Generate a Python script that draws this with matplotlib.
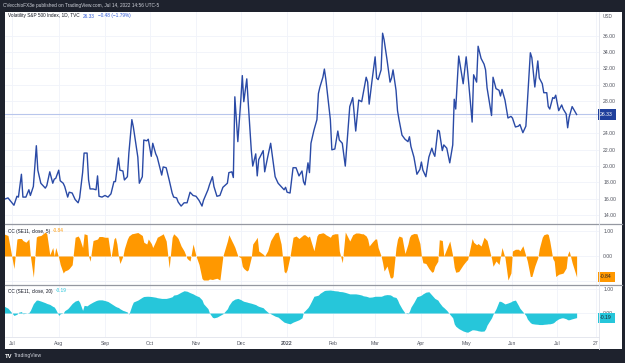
import matplotlib
matplotlib.use("Agg")
import matplotlib.pyplot as plt
import pandas as pd

# VIX daily closes (Jul 2021 - Jul 2022)
dates = [
    "2021-06-25", "2021-06-28", "2021-07-02", "2021-07-04", "2021-07-05", "2021-07-07", "2021-07-08", "2021-07-10", "2021-07-12", "2021-07-13",
    "2021-07-15", "2021-07-17", "2021-07-18", "2021-07-20", "2021-07-23", "2021-07-24", "2021-07-26", "2021-07-28", "2021-07-29", "2021-07-30",
    "2021-08-01", "2021-08-02", "2021-08-04", "2021-08-05", "2021-08-07", "2021-08-08", "2021-08-10", "2021-08-12", "2021-08-14", "2021-08-15",
    "2021-08-17", "2021-08-18", "2021-08-20", "2021-08-21", "2021-08-22", "2021-08-24", "2021-08-26", "2021-08-27", "2021-08-28", "2021-08-30",
    "2021-09-01", "2021-09-03", "2021-09-05", "2021-09-07", "2021-09-08", "2021-09-09", "2021-09-10", "2021-09-11", "2021-09-13", "2021-09-14",
    "2021-09-16", "2021-09-17", "2021-09-19", "2021-09-20", "2021-09-23", "2021-09-24", "2021-09-26", "2021-09-27", "2021-09-29", "2021-09-30",
    "2021-10-02", "2021-10-03", "2021-10-05", "2021-10-06", "2021-10-09", "2021-10-10", "2021-10-12", "2021-10-14", "2021-10-16", "2021-10-17",
    "2021-10-19", "2021-10-20", "2021-10-22", "2021-10-24", "2021-10-26", "2021-10-28", "2021-10-30",
    "2021-11-01", "2021-11-03", "2021-11-05", "2021-11-06", "2021-11-09", "2021-11-10", "2021-11-12", "2021-11-13", "2021-11-15", "2021-11-17",
    "2021-11-19", "2021-11-22", "2021-11-23", "2021-11-25", "2021-11-26", "2021-11-27", "2021-11-29",
    "2021-12-01", "2021-12-02", "2021-12-03", "2021-12-05", "2021-12-06", "2021-12-08", "2021-12-09", "2021-12-11", "2021-12-12", "2021-12-13",
    "2021-12-16", "2021-12-17", "2021-12-19", "2021-12-21", "2021-12-24", "2021-12-26", "2021-12-28", "2021-12-30", "2021-12-31",
    "2022-01-01", "2022-01-03", "2022-01-05", "2022-01-07", "2022-01-09", "2022-01-11", "2022-01-12", "2022-01-13", "2022-01-15", "2022-01-16",
    "2022-01-17", "2022-01-19", "2022-01-21", "2022-01-22", "2022-01-23", "2022-01-25", "2022-01-26", "2022-01-27", "2022-01-30", "2022-01-31",
    "2022-02-02", "2022-02-04", "2022-02-05", "2022-02-07", "2022-02-09", "2022-02-12", "2022-02-14", "2022-02-16", "2022-02-18", "2022-02-20",
    "2022-02-21", "2022-02-23", "2022-02-24", "2022-02-25", "2022-02-27",
    "2022-03-01", "2022-03-02", "2022-03-03", "2022-03-05", "2022-03-06", "2022-03-07", "2022-03-09", "2022-03-11", "2022-03-12", "2022-03-13",
    "2022-03-15", "2022-03-16", "2022-03-17", "2022-03-19", "2022-03-21", "2022-03-23", "2022-03-24", "2022-03-25", "2022-03-27", "2022-03-29", "2022-03-31",
    "2022-04-01", "2022-04-02", "2022-04-04", "2022-04-06", "2022-04-08", "2022-04-09", "2022-04-10", "2022-04-12", "2022-04-13", "2022-04-15",
    "2022-04-16", "2022-04-18", "2022-04-20", "2022-04-22", "2022-04-23", "2022-04-24", "2022-04-26", "2022-04-29",
    "2022-05-01", "2022-05-02", "2022-05-05", "2022-05-06", "2022-05-08", "2022-05-09", "2022-05-11", "2022-05-13", "2022-05-14", "2022-05-15",
    "2022-05-18", "2022-05-19", "2022-05-21", "2022-05-23", "2022-05-24", "2022-05-25", "2022-05-27", "2022-05-29", "2022-05-31",
    "2022-06-01", "2022-06-03", "2022-06-05", "2022-06-06", "2022-06-08", "2022-06-10", "2022-06-11", "2022-06-13", "2022-06-14", "2022-06-16",
    "2022-06-18", "2022-06-19", "2022-06-21", "2022-06-22", "2022-06-24", "2022-06-25", "2022-06-26", "2022-06-28", "2022-06-29", "2022-06-30",
    "2022-07-02", "2022-07-04", "2022-07-05", "2022-07-07", "2022-07-08", "2022-07-09", "2022-07-11", "2022-07-14",
]

vix = [
    15.9, 16.1, 15.2, 16.3, 16.2, 19.0, 16.2, 16.2, 17.1, 16.4, 17.5, 22.5, 19.5, 17.9, 17.3, 17.6, 19.3, 17.9, 18.4, 18.5,
    19.5, 18.2, 17.9, 17.5, 16.2, 16.8, 16.7, 15.9, 15.5, 16.1, 19.2, 21.6, 21.6, 18.3, 17.2, 17.2, 17.1, 18.8, 16.3, 16.2,
    16.4, 16.2, 16.6, 18.1, 18.1, 19.5, 21.0, 19.5, 19.4, 18.3, 18.7, 21.6, 25.7, 24.8, 21.1, 17.9, 18.7, 23.2, 23.1, 23.3,
    21.2, 22.8, 21.5, 21.1, 18.9, 19.9, 19.8, 18.3, 16.7, 16.2, 16.1, 15.6, 15.1, 15.5, 15.5, 16.8, 16.4,
    16.3, 15.8, 15.1, 15.8, 17.1, 17.7, 18.7, 17.5, 16.3, 16.4, 17.4, 17.9, 19.2, 19.3, 18.6, 28.5, 23.0,
    28.1, 31.1, 27.9, 30.7, 27.7, 22.0, 20.0, 21.5, 18.8, 20.8, 21.9, 19.3, 21.1, 22.8, 18.7, 17.9, 17.5, 17.1, 17.4,
    16.8, 16.7, 19.8, 19.8, 18.8, 19.4, 18.1, 17.7, 20.4, 19.2, 22.8, 24.4, 25.7, 28.9, 29.7, 30.9, 31.9, 30.6, 25.7, 22.0,
    22.1, 24.3, 23.2, 22.8, 20.0, 27.3, 28.4, 24.3, 28.1, 27.9, 28.9, 30.9, 30.3, 27.6, 30.6,
    33.4, 30.8, 30.6, 31.8, 36.3, 35.5, 33.0, 30.3, 30.8, 31.8, 29.3, 26.8, 25.7, 23.8, 23.3, 23.0, 23.6, 22.4, 21.1, 19.0, 19.6,
    20.5, 19.5, 18.7, 21.1, 22.2, 21.6, 21.2, 24.4, 24.3, 21.9, 22.6, 22.2, 20.4, 22.6, 28.2, 27.0, 33.5, 30.1,
    33.4, 31.6, 25.4, 31.2, 30.3, 34.7, 33.2, 32.5, 31.8, 29.6, 26.2, 30.9, 29.5, 29.3, 28.6, 29.4, 28.1, 25.9, 26.1,
    25.9, 24.8, 24.9, 25.1, 24.1, 24.9, 27.8, 33.9, 33.3, 29.7, 32.9, 30.8, 30.1, 29.0, 29.0, 27.3, 27.0, 28.4, 28.3, 28.7,
    26.8, 27.5, 27.0, 26.4, 24.7, 26.0, 27.3, 26.33,
]

# correlation coefficient, 5-day
cc5 = [
    0.89, 0.82, -0.5, 0.68, 0.7, 0.7, 0.62, 0.55, 0.68, 0.0, -0.85, 0.76, 0.8, 0.82, 0.96, 0.89, 0.05, 0.34, 0.0, 0.34,
    -0.07, -0.34, -0.68, -0.6, -0.55, -0.5, -0.35, 0.75, 0.8, 0.7, 0.34, 0.89, 0.85, 0.0, -0.21, 0.62, 0.66, 0.68, 0.78, 0.78,
    0.75, 0.75, -0.07, 0.68, 0.75, 0.48, 0.0, -0.3, 0.0, 0.3, 0.68, 0.8, 0.89, 0.9, 0.94, 0.9, 0.82, 0.55, 0.48, 0.68,
    0.5, 0.34, 0.6, 0.75, 0.85, 0.89, 0.6, -0.48, 0.75, 0.89, 0.78, 0.7, 0.4, 0.2, -0.1, -0.2, 0.48,
    0.0, -0.34, -0.9, -0.96, -0.96, -0.92, -0.94, -0.92, -0.89, -0.96, 0.0, 0.6, 0.85, 0.6, 0.48, 0.35, 0.0,
    -0.07, -0.41, -0.5, -0.6, -0.55, -0.05, 0.48, 0.65, 0.75, 0.2, 0.07, 0.0, 0.21, 0.62, 0.92, 0.96, 0.48, -0.62, -0.68,
    -0.55, 0.0, 0.75, 0.8, 0.7, 0.8, 0.85, 0.85, 0.75, 0.8, 0.6, 0.21, 0.8, 0.89, 0.9, 0.93, 0.9, 0.85, 0.75, 0.85,
    0.89, 0.89, 0.2, -0.27, 0.96, 0.6, 0.85, 0.92, 0.92, 0.89, 0.89, 0.8, 0.68, 0.4, 0.55,
    0.68, 0.68, 0.34, 0.0, -0.27, -0.6, -0.4, -0.85, -0.89, -0.82, 0.34, 0.68, 0.8, 0.75, 0.1, 0.48, 0.75, 0.85, 0.9, 0.89, 0.5,
    0.0, -0.27, -0.3, -0.5, -0.65, -0.62, -0.41, -0.21, 0.65, 0.62, 0.0, 0.3, 0.6, 0.0, -0.45, -0.65, -0.62, -0.35,
    -0.2, -0.14, 0.7, 0.55, 0.45, 0.5, 0.4, 0.75, 0.68, 0.62, -0.1, -0.41, -0.2, -0.34, 0.0, 0.34, -0.07, -0.96, -0.68,
    0.2, 0.27, 0.27, 0.21, 0.41, 0.0, -0.21, -0.82, -0.82, -0.4, -0.07, 0.3, 0.75, 0.85, 0.89, 0.86, 0.6, -0.1, -0.21, -0.82,
    -0.73, -0.7, -0.68, -0.48, 0.07, 0.21, -0.27, -0.84,
]

# correlation coefficient, 20-day
cc20 = [
    0.3, 0.2, -0.1, -0.05, 0.03, 0.06, -0.03, -0.01, 0.02, 0.11, 0.39, 0.54, 0.54, 0.5, 0.43, 0.4, 0.36, 0.28, 0.25, 0.15,
    -0.1, -0.03, 0.0, 0.1, 0.18, 0.25, 0.4, 0.5, 0.54, 0.45, 0.11, 0.32, 0.3, 0.35, 0.39, 0.46, 0.52, 0.54, 0.55, 0.55,
    0.52, 0.48, 0.4, 0.32, 0.28, 0.25, 0.23, 0.18, 0.11, 0.09, 0.04, -0.05, 0.32, 0.46, 0.54, 0.58, 0.66, 0.69, 0.7, 0.7,
    0.69, 0.68, 0.66, 0.64, 0.61, 0.61, 0.61, 0.64, 0.68, 0.75, 0.77, 0.8, 0.87, 0.93, 0.91, 0.85, 0.8,
    0.73, 0.68, 0.55, 0.39, 0.18, 0.0, -0.18, -0.2, -0.17, -0.1, -0.03, 0.18, 0.32, 0.5, 0.54, 0.58, 0.61,
    0.56, 0.52, 0.49, 0.46, 0.44, 0.41, 0.39, 0.35, 0.31, 0.28, 0.22, 0.15, 0.04, -0.03, -0.13, -0.17, -0.28, -0.38, -0.4,
    -0.42, -0.45, -0.38, -0.33, -0.28, -0.2, 0.04, 0.1, 0.23, 0.33, 0.45, 0.7, 0.73, 0.75, 0.82, 0.9, 0.94, 0.95, 0.96, 0.95,
    0.93, 0.92, 0.9, 0.89, 0.86, 0.8, 0.8, 0.8, 0.78, 0.75, 0.72, 0.7, 0.68, 0.66, 0.67,
    0.7, 0.7, 0.7, 0.7, 0.72, 0.75, 0.77, 0.76, 0.73, 0.68, 0.65, 0.55, 0.4, 0.18, 0.0, -0.03, 0.08, 0.25, 0.45, 0.68, 0.72,
    0.75, 0.8, 0.87, 0.89, 0.75, 0.68, 0.61, 0.54, 0.44, 0.28, 0.23, 0.11, -0.05, -0.2, -0.45, -0.55, -0.65, -0.75,
    -0.79, -0.8, -0.7, -0.7, -0.72, -0.74, -0.76, -0.75, -0.66, -0.5, -0.2, -0.05, 0.18, 0.49, 0.49, 0.46, 0.38, 0.42, 0.47,
    0.51, 0.54, 0.32, 0.2, 0.05, -0.1, -0.25, -0.4, -0.44, -0.46, -0.47, -0.48, -0.48, -0.47, -0.46, -0.45, -0.45, -0.42, -0.38, -0.32,
    -0.24, -0.2, -0.2, -0.24, -0.28, -0.28, -0.24, -0.19,
]

month_ticks = ["2021-07-01", "2021-08-01", "2021-09-01", "2021-10-01", "2021-11-01", "2021-12-01", "2022-01-01",
               "2022-02-01", "2022-03-01", "2022-04-01", "2022-05-01", "2022-06-01", "2022-07-01", "2022-07-27"]
month_labels = ["Jul", "Aug", "Sep", "Oct", "Nov", "Dec", "2022", "Feb", "Mar", "Apr", "May", "Jun", "Jul", "27"]
# 26.00 sits under the last-price label, so it is not printed
price_ticks = [14, 16, 18, 20, 22, 24, 28, 30, 32, 34, 36]

x = pd.to_datetime(dates)

plt.rcParams['font.family'] = ['Liberation Sans', 'DejaVu Sans']
W, H = 625, 363
fig = plt.figure(figsize=(W / 100, H / 100), dpi=100, facecolor='#1e222d')


def box(x0, y0, x1, y1):
    # pixel box -> figure fraction
    return [x0 / W, 1 - y1 / H, (x1 - x0) / W, (y1 - y0) / H]


# white chart area behind everything
fig.patches.append(plt.Rectangle((5 / W, 1 - 349 / H), 617 / W, 337 / H, transform=fig.transFigure,
                                 fc='white', ec='none', zorder=-10))

ax1 = fig.add_axes(box(5, 12, 599, 224))
ax2 = fig.add_axes(box(5, 224, 599, 285), sharex=ax1)
ax3 = fig.add_axes(box(5, 285, 599, 337), sharex=ax1)

blue = '#2a4aa6'
orange = '#ff9800'
cyan = '#26c6da'
grid_c = '#f0f3fa'
txt_c = '#50535e'
fs = 3.4
tfs = 3.7

ax1.plot(x, vix, color=blue, lw=1.0)
ax1.axhline(26.33, color='#b8c6ec', lw=0.8, zorder=1)
ax1.axhline(26, color=grid_c, lw=0.6, zorder=0)
ax1.set_ylim(12.9, 38.9)
ax1.set_yticks(price_ticks)
ax1.set_yticklabels([f"{v:.2f}" for v in price_ticks])

ax2.fill_between(x, 0, cc5, color=orange, lw=0)
ax2.axhline(-1, color=grid_c, lw=0.6, zorder=0)
ax2.set_ylim(-1.16, 1.28)
ax2.set_yticks([0, 1])
ax2.set_yticklabels(["0.00", "1.00"])

ax3.fill_between(x, 0, cc20, color=cyan, lw=0)
ax3.set_ylim(-1.0, 1.17)
ax3.set_yticks([0, 1])
ax3.set_yticklabels(["0.00", "1.00"])

ax3.set_xlim(pd.Timestamp("2021-06-26"), pd.Timestamp("2022-07-29"))
ax3.set_xticks(pd.to_datetime(month_ticks))
ax3.set_xticklabels(month_labels)
for lab in ax3.get_xticklabels():
    if lab.get_text() == "2022":
        lab.set_fontweight('bold')

for ax in (ax1, ax2, ax3):
    ax.set_facecolor('none')
    for s in ax.spines.values():
        s.set_visible(False)
    ax.yaxis.tick_right()
    ax.tick_params(axis='y', length=0, pad=3, labelsize=tfs, labelcolor=txt_c)
    ax.tick_params(axis='x', length=0, pad=3, labelsize=tfs, labelcolor=txt_c)
    ax.grid(True, color=grid_c, lw=0.6)
    ax.set_axisbelow(True)
for ax in (ax1, ax2):
    ax.tick_params(axis='x', labelbottom=False)

# separators
sep = '#9598a1'
fig.add_artist(plt.Line2D([5 / W, 622 / W], [1 - 224 / H] * 2, color=sep, lw=0.9))
fig.add_artist(plt.Line2D([5 / W, 622 / W], [1 - 285 / H] * 2, color=sep, lw=0.9))
fig.add_artist(plt.Line2D([599 / W] * 2, [1 - 349 / H, 1 - 12 / H], color='#e0e3eb', lw=0.6))
fig.add_artist(plt.Line2D([5 / W, 599 / W], [1 - 337 / H] * 2, color='#e0e3eb', lw=0.6))


# last value labels on price scale
def last_label(ax, val, text, fc, tc):
    ax.text(1.002, val, text, transform=ax.get_yaxis_transform(), ha='left', va='center',
            fontsize=tfs, color=tc, zorder=10, clip_on=False,
            bbox=dict(boxstyle='square,pad=0.5', fc=fc, ec='none'))


last_label(ax1, vix[-1], "26.33", '#1f3f9c', 'white')
last_label(ax2, cc5[-1], "-0.84", orange, '#1e222d')
last_label(ax3, cc20[-1], "-0.19", cyan, '#1e222d')

fig.canvas.draw()
renderer = fig.canvas.get_renderer()


def chain(x0, y0, parts):
    # write text pieces one after another at pixel position
    xp = x0
    for s, c in parts:
        t = fig.text(xp / W, 1 - y0 / H, s, color=c, fontsize=fs, va='center')
        xp = t.get_window_extent(renderer).x1 + 3


val_c = '#2f5ad6'
chain(8, 16, [("Volatility S&P 500 Index, 1D, TVC", '#131722'), ("26.33", val_c), ("\u22120.48 (\u22121.79%)", val_c)])
chain(8, 231, [("CC (SE11, close, 5)", '#131722'), ("-0.84", orange)])
chain(8, 291, [("CC (SE11, close, 20)", '#131722'), ("-0.19", cyan)])

fig.text(3 / W, 1 - 5.5 / H, "CVecchioFX3e published on TradingView.com, Jul 14, 2022 14:56 UTC-5",
         color='#d1d4dc', fontsize=3.4, va='center')
fig.text(603 / W, 1 - 16 / H, "USD", color=txt_c, fontsize=fs, va='center')
fig.text(5 / W, 1 - 356 / H, "TV", color='white', fontsize=4.2, fontweight='bold', va='center')
fig.text(14 / W, 1 - 356 / H, "TradingView", color='#d1d4dc', fontsize=3.6, va='center')

fig.savefig("out.png", dpi=100, facecolor=fig.get_facecolor())
